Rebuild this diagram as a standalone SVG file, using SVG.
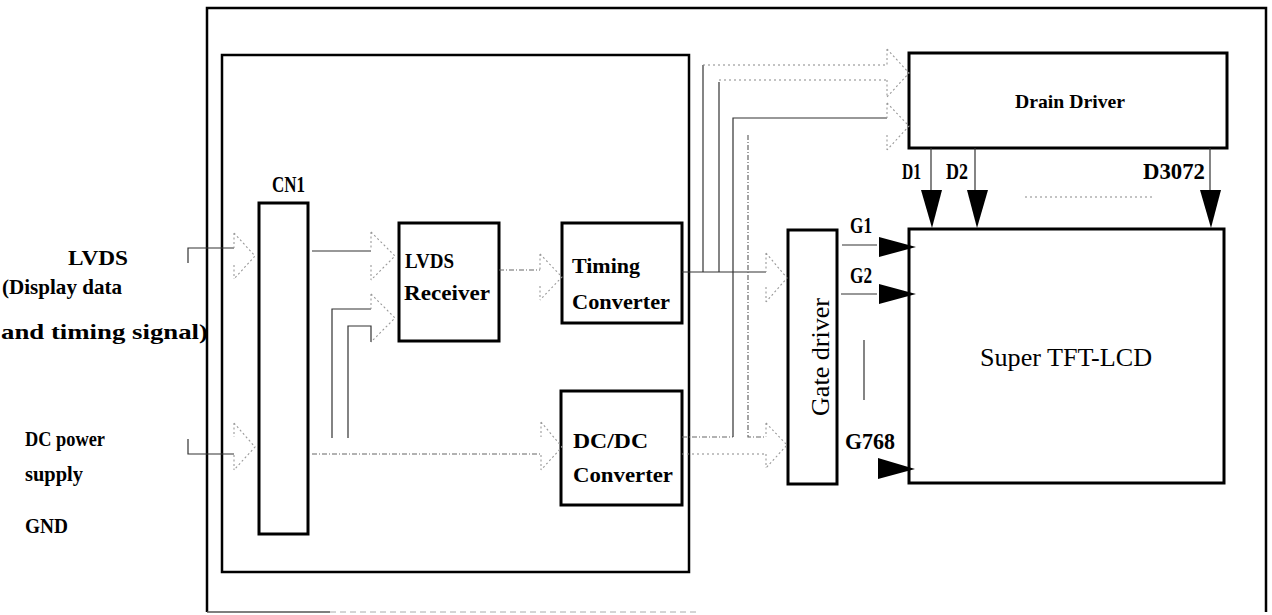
<svg xmlns="http://www.w3.org/2000/svg" width="1272" height="615" viewBox="0 0 1272 615">
<style>
.box{fill:#fff;stroke:#000;stroke-width:3}
.frame{fill:none;stroke:#000;stroke-width:2.5}
.ln{fill:none;stroke:#333;stroke-width:1.2}
.dl{fill:none;stroke:#666;stroke-width:1.2;stroke-dasharray:5 2 1 2}
.dt{fill:none;stroke:#888;stroke-width:1.1;stroke-dasharray:2 3}
.ha{fill:none;stroke:#999;stroke-width:1.1;stroke-dasharray:2 2.5}
.tri{fill:#000;stroke:none}
.t{font-family:"Liberation Serif",serif;font-weight:bold;fill:#000}
.r{font-family:"Liberation Serif",serif;fill:#000}
</style>
<rect x="0" y="0" width="1272" height="615" fill="#fff"/>
<g id="frame">
<path class="frame" d="M207,612 V8 H1266 V612"/>
<path d="M207,612 H330" stroke="#555" stroke-width="1.5" fill="none"/>
<path d="M330,612 H700" stroke="#aaa" stroke-width="1" stroke-dasharray="6 4" fill="none"/>
</g>
<g id="controller">
<rect x="222" y="55" width="467" height="517" fill="none" stroke="#000" stroke-width="2.5"/>
</g>
<g id="labels-left">
<text class="t" x="68" y="265" font-size="21" textLength="60" lengthAdjust="spacingAndGlyphs">LVDS</text>
<text class="t" x="2" y="294" font-size="21" textLength="120" lengthAdjust="spacingAndGlyphs">(Display data</text>
<text class="t" x="1" y="339" font-size="21" textLength="207" lengthAdjust="spacingAndGlyphs">and timing signal)</text>
<text class="t" x="25" y="446" font-size="21" textLength="80" lengthAdjust="spacingAndGlyphs">DC power</text>
<text class="t" x="25" y="481" font-size="21" textLength="58" lengthAdjust="spacingAndGlyphs">supply</text>
<text class="t" x="25" y="533" font-size="21" textLength="43" lengthAdjust="spacingAndGlyphs">GND</text>
</g>
<g id="cn1">
<rect class="box" x="259" y="203" width="49" height="331"/>
<text class="t" x="272" y="192" font-size="23" textLength="33" lengthAdjust="spacingAndGlyphs">CN1</text>
</g>
<g id="lvds-receiver">
<rect class="box" x="399" y="223" width="100" height="118"/>
<text class="t" x="405" y="268" font-size="22" textLength="49" lengthAdjust="spacingAndGlyphs">LVDS</text>
<text class="t" x="404" y="300" font-size="21" textLength="86" lengthAdjust="spacingAndGlyphs">Receiver</text>
</g>
<g id="timing-converter">
<rect class="box" x="562" y="223" width="120" height="100"/>
<text class="t" x="572" y="273" font-size="21" textLength="68" lengthAdjust="spacingAndGlyphs">Timing</text>
<text class="t" x="572" y="309" font-size="21" textLength="98" lengthAdjust="spacingAndGlyphs">Converter</text>
</g>
<g id="dcdc-converter">
<rect class="box" x="561" y="391" width="121" height="114"/>
<text class="t" x="573" y="448" font-size="22" textLength="75" lengthAdjust="spacingAndGlyphs">DC/DC</text>
<text class="t" x="573" y="482" font-size="22" textLength="100" lengthAdjust="spacingAndGlyphs">Converter</text>
</g>
<g id="gate-driver">
<rect class="box" x="788" y="230" width="49" height="254"/>
<text class="r" transform="translate(829,357) rotate(-90)" x="0" y="0" font-size="25" text-anchor="middle" textLength="118" lengthAdjust="spacingAndGlyphs">Gate driver</text>
</g>
<g id="drain-driver">
<rect class="box" x="909" y="53" width="318" height="95"/>
<text class="t" x="1015" y="108" font-size="19" textLength="110" lengthAdjust="spacingAndGlyphs">Drain Driver</text>
</g>
<g id="super-tft-lcd">
<rect class="box" x="909" y="229" width="315" height="254"/>
<text class="r" x="980" y="366" font-size="26" textLength="172" lengthAdjust="spacingAndGlyphs">Super TFT-LCD</text>
</g>
<g id="connectors">
<path class="ln" d="M188,263 V248 H234"/>
<path class="ha" d="M234,233 V248 M234,265 V279 M234,233 L255,256 L234,279"/>
<path class="ln" d="M188,439 V454 H234"/>
<path class="ha" d="M234,423 V437 M234,455 V470 M234,423 L255,447 L234,470"/>
<path class="ln" d="M312,251 H371"/>
<path class="ha" d="M371,232 V248 M371,265 V280 M371,232 L395,256 L371,280"/>
<path class="ln" d="M332,438 V309 H371"/>
<path class="ln" d="M348,438 V326 H371 V342"/>
<path class="ha" d="M371,294 V309 M371,294 L395,318 L371,342"/>
<path class="dl" d="M312,454 H541"/>
<path class="ha" d="M541,422 V437 M541,455 V470 M541,422 L562,447 L541,470"/>
<path class="dl" d="M499,270 H540"/>
<path class="ha" d="M540,254 V270 M540,286 V300 M540,254 L562,277 L540,300"/>
<path class="ln" d="M682,272 H766"/>
<path class="ln" d="M703,272 V65"/>
<path class="dt" d="M703,65 H887"/>
<path class="ln" d="M719,272 V82"/>
<path class="dt" d="M719,80 H887" stroke-dasharray="1 12"/>
<path class="ha" d="M887,49 V65 M887,80 V97 M887,49 L909,73 L887,97"/>
<path class="dl" d="M682,437 H733"/>
<path class="ln" d="M733,437 V118 H887"/>
<path class="ha" d="M887,103 V118 M887,135 V150 M887,103 L909,126 L887,150"/>
<path class="dl" d="M748,135 V437 H766"/>
<path class="dt" d="M682,454 H766"/>
<path class="ha" d="M766,253 V272 M766,287 V302 M766,253 L787,278 L766,302"/>
<path class="ha" d="M766,423 V437 M766,454 V468 M766,423 L787,445 L766,468"/>
<path class="ln" d="M931,148 V190"/>
<polygon class="tri" points="921,190 942,190 932,228"/>
<path class="ln" d="M975,148 V190"/>
<polygon class="tri" points="967,190 988,190 977,228"/>
<path class="ln" d="M1210,148 V190"/>
<polygon class="tri" points="1200,190 1221,190 1211,228"/>
<path class="dt" d="M1025,197 H1155" stroke-dasharray="6 2"/>
<path class="ln" d="M842,245 H877"/>
<polygon class="tri" points="879,237 879,257 916,247"/>
<path class="ln" d="M841,294 H877"/>
<polygon class="tri" points="879,284 879,304 916,294"/>
<path class="ln" d="M864,340 V400"/>
<polygon class="tri" points="878,458 878,479 915,469"/>
</g>
<g id="pin-labels">
<text class="t" x="902" y="179" font-size="23" textLength="19" lengthAdjust="spacingAndGlyphs">D1</text>
<text class="t" x="946" y="179" font-size="23" textLength="22" lengthAdjust="spacingAndGlyphs">D2</text>
<text class="t" x="1143" y="179" font-size="23" textLength="62" lengthAdjust="spacingAndGlyphs">D3072</text>
<text class="t" x="850" y="233" font-size="23" textLength="22" lengthAdjust="spacingAndGlyphs">G1</text>
<text class="t" x="850" y="283" font-size="23" textLength="22" lengthAdjust="spacingAndGlyphs">G2</text>
<text class="t" x="845" y="449" font-size="23" textLength="50" lengthAdjust="spacingAndGlyphs">G768</text>
</g>
</svg>
